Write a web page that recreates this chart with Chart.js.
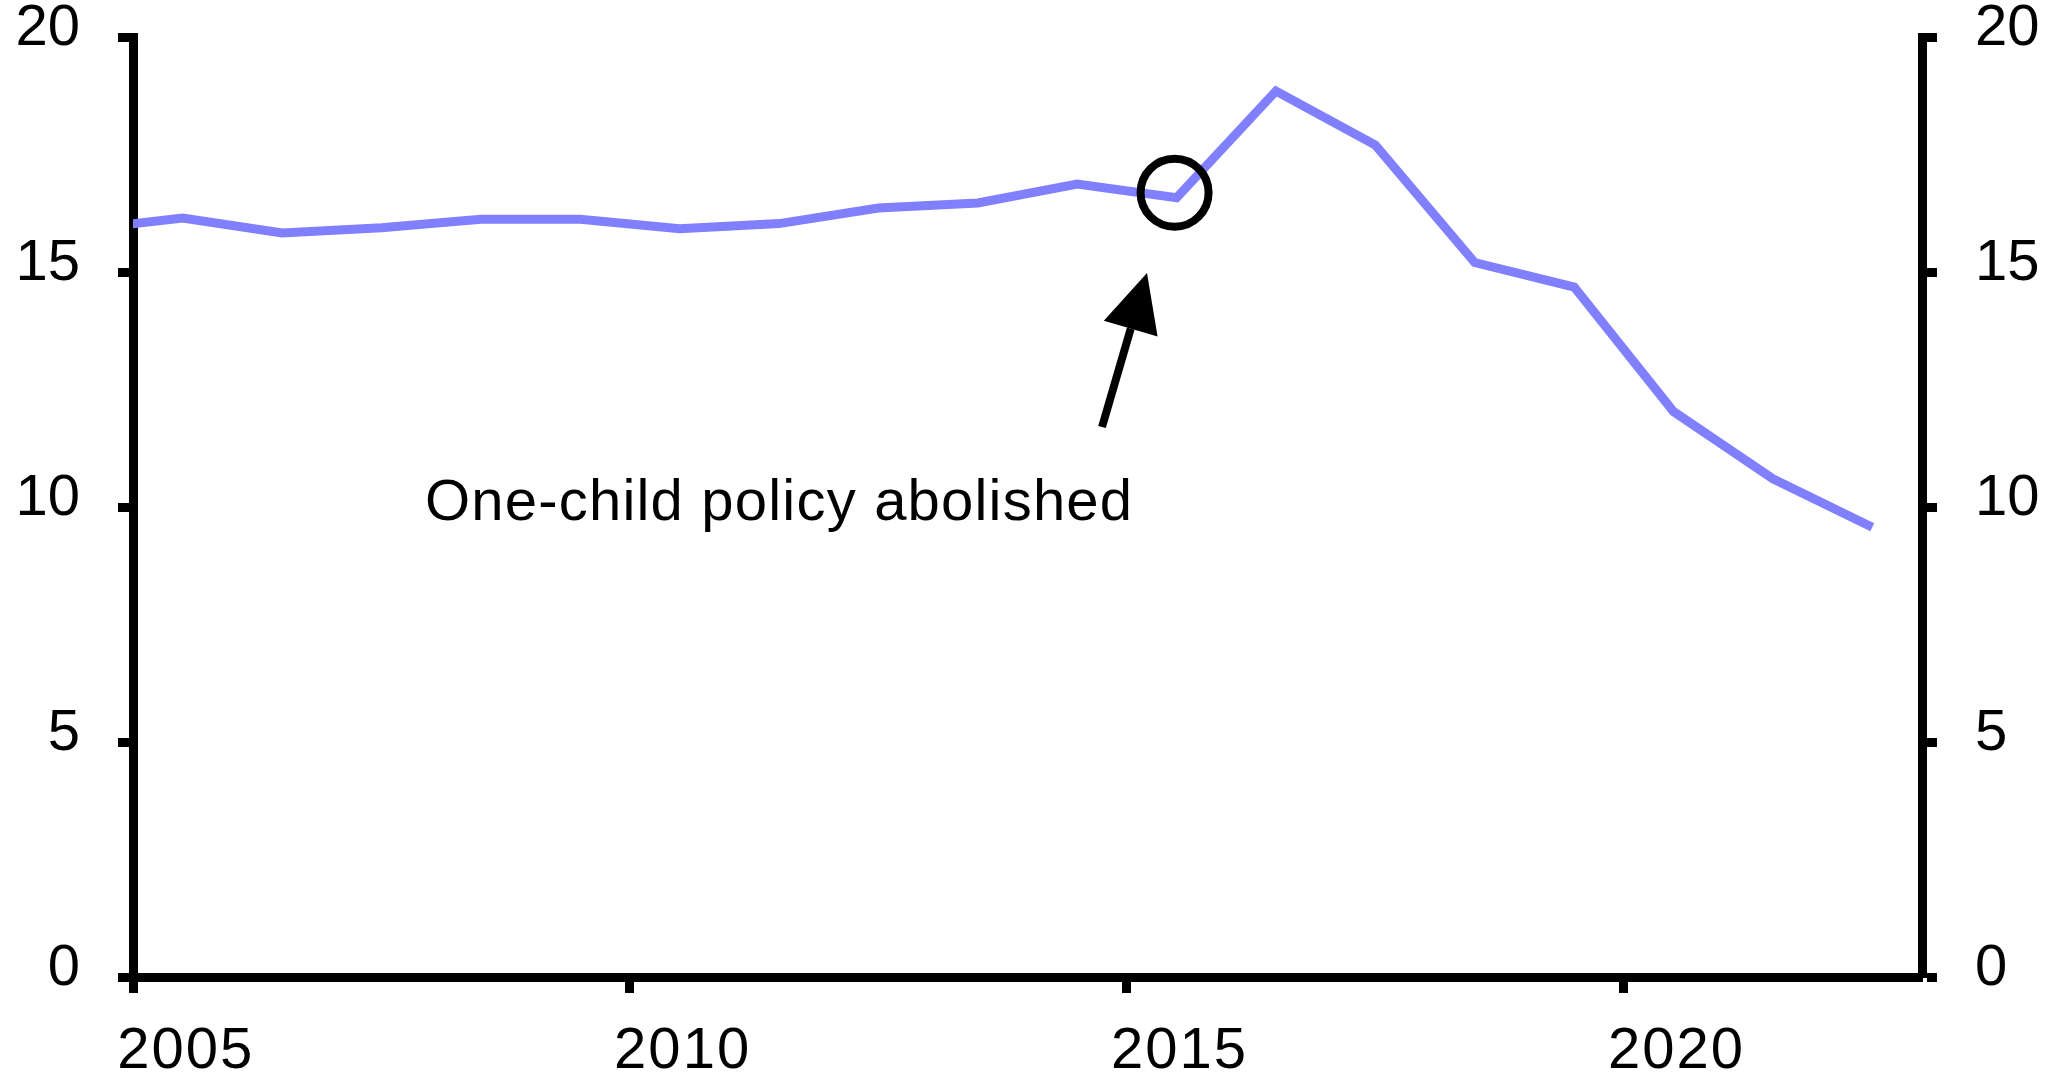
<!DOCTYPE html>
<html>
<head>
<meta charset="utf-8">
<script src="https://cdn.jsdelivr.net/npm/chart.js"></script>
<style>
  html, body { margin: 0; padding: 0; background: #fff; }
  #wrap { width: 2064px; height: 1078px; position: relative; }
</style>
</head>
<body>
<div id="wrap"><canvas id="birthsChart"></canvas></div>
<script>
// annual births (millions), plotted at mid-year
const years = [2004, 2005, 2006, 2007, 2008, 2009, 2010, 2011, 2012, 2013, 2014, 2015, 2016, 2017, 2018, 2019, 2020, 2021, 2022];
const births = [15.9, 16.15, 15.83, 15.94, 16.12, 16.12, 15.92, 16.03, 16.36, 16.47, 16.87, 16.58, 18.85, 17.7, 15.2, 14.68, 12.03, 10.6, 9.57];
const xTickYears = [2005, 2010, 2015, 2020];
const yTicks = [0, 5, 10, 15, 20];
const noteText = 'One-child policy abolished';
const noteYear = 2015;

const FONT = '"Liberation Sans", Arial, sans-serif';

const points = years.map((y, i) => ({ x: y + 0.5, y: births[i] }));

// draws x labels, the circle, the arrow and the note
const extras = {
  id: 'extras',
  afterDraw(chart) {
    const ctx = chart.ctx;
    const xs = chart.scales.x, ys = chart.scales.y;
    ctx.save();
    ctx.fillStyle = '#000';
    ctx.font = '58px ' + FONT;
    ctx.letterSpacing = '2px';
    ctx.textAlign = 'center';
    ctx.textBaseline = 'middle';
    xTickYears.forEach(yr => {
      ctx.fillText(String(yr), xs.getPixelForValue(yr + 0.52) + 1, 1052);
    });

    // circle around the 2015 point
    const idx = years.indexOf(noteYear);
    const cx = xs.getPixelForValue(years[idx] + 0.5) - 2;
    const cy = ys.getPixelForValue(births[idx]) - 5;
    ctx.strokeStyle = '#000';
    ctx.lineWidth = 8;
    ctx.beginPath();
    ctx.arc(cx, cy, 34, 0, Math.PI * 2);
    ctx.stroke();

    // arrow
    const tail = { x: 1102, y: 427 };
    const tip = { x: 1147, y: 273 };
    const ang = Math.atan2(tip.y - tail.y, tip.x - tail.x);
    const headLen = 58, headHalf = 28;
    const bx = tip.x - headLen * Math.cos(ang), by = tip.y - headLen * Math.sin(ang);
    ctx.lineWidth = 8;
    ctx.beginPath();
    ctx.moveTo(tail.x, tail.y);
    ctx.lineTo(bx, by);
    ctx.stroke();
    ctx.beginPath();
    ctx.moveTo(tip.x, tip.y);
    ctx.lineTo(bx + headHalf * Math.sin(ang), by - headHalf * Math.cos(ang));
    ctx.lineTo(bx - headHalf * Math.sin(ang), by + headHalf * Math.cos(ang));
    ctx.closePath();
    ctx.fill();

    // note
    ctx.font = '58px ' + FONT;
    ctx.letterSpacing = '1.2px';
    ctx.textAlign = 'left';
    ctx.fillText(noteText, 425, 504);
    ctx.restore();
  }
};

const yAxis = (pos, width) => ({
  type: 'linear',
  position: pos,
  min: 0,
  max: 20,
  z: 1,
  afterBuildTicks: s => { s.ticks = yTicks.map(v => ({ value: v })); },
  afterFit: s => { s.width = width; s.paddingTop = 0; s.paddingBottom = 0; },
  border: { display: true, color: '#000', width: 9 },
  grid: { drawOnChartArea: false, drawTicks: true, tickLength: 15, tickWidth: 9, tickColor: '#000' },
  ticks: { color: '#000', padding: pos === 'left' ? 38 : 38, labelOffset: -8, font: { family: FONT, size: 58 } }
});

new Chart(document.getElementById('birthsChart').getContext('2d'), {
  type: 'line',
  data: {
    datasets: [{
      data: points,
      borderColor: '#8080ff',
      borderWidth: 9,
      pointRadius: 0,
      tension: 0,
      yAxisID: 'y'
    }]
  },
  options: {
    responsive: true,
    maintainAspectRatio: false,
    animation: false,
    layout: { padding: { top: 37, left: 0, right: 0, bottom: 0 } },
    plugins: { legend: { display: false }, tooltip: { enabled: false } },
    scales: {
      x: {
        type: 'linear',
        min: 2005,
        max: 2023,
        z: 1,
        afterBuildTicks: s => { s.ticks = xTickYears.map(v => ({ value: v })); },
        afterFit: s => { s.height = 101; s.paddingLeft = 0; s.paddingRight = 0; },
        border: { display: true, color: '#000', width: 9 },
        grid: { drawOnChartArea: false, drawTicks: true, tickLength: 16, tickWidth: 9, tickColor: '#000' },
        ticks: { display: false }
      },
      y: yAxis('left', 133),
      y2: yAxis('right', 142)
    }
  },
  plugins: [extras]
});
</script>
</body>
</html>
